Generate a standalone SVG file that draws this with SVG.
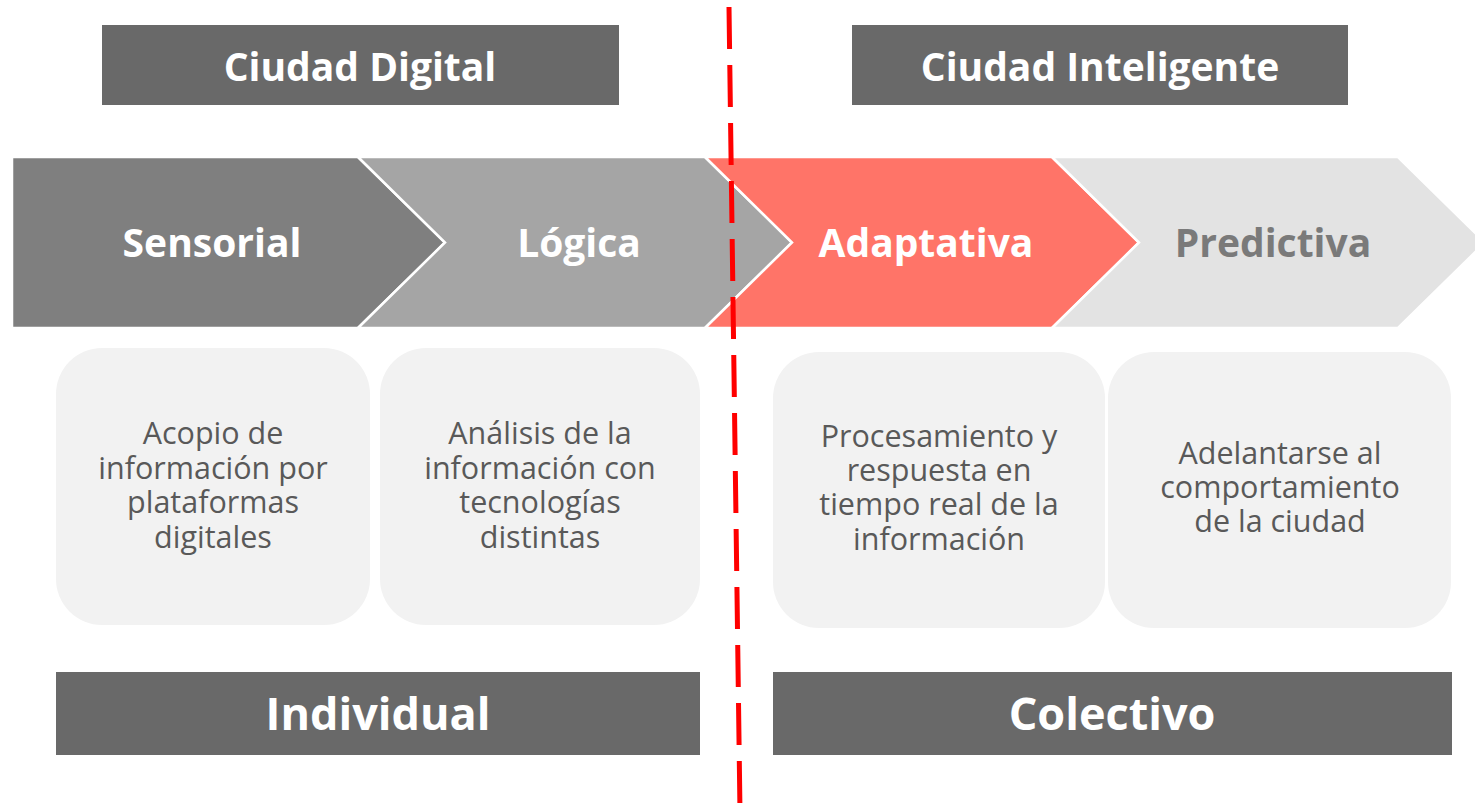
<svg xmlns="http://www.w3.org/2000/svg" width="1475" height="812" viewBox="0 0 1475 812">
<style>
.bar{fill:#696969}
.hd{font-family:"Open Sans","Liberation Sans",sans-serif;font-weight:bold;fill:#ffffff;text-anchor:middle}
.chev{stroke:#ffffff;stroke-width:2.5;stroke-linejoin:miter}
.box{fill:#f2f2f2}
.bt{font-family:"Open Sans","Liberation Sans",sans-serif;font-size:30.5px;fill:#595959;text-anchor:middle}
.lbl{font-family:"Open Sans","Liberation Sans",sans-serif;font-weight:bold;font-size:39px;text-anchor:middle}
</style>
<rect width="1475" height="812" fill="#ffffff"/>
<g id="title-digital"><rect class="bar" x="102" y="25" width="517" height="80"/><text class="hd" x="360" y="81" font-size="39">Ciudad Digital</text></g>
<g id="title-inteligente"><rect class="bar" x="852" y="25" width="496" height="80"/><text class="hd" x="1100" y="81" font-size="39">Ciudad Inteligente</text></g>
<g id="chev-sensorial"><path class="chev" fill="#7f7f7f" d="M12,157 L358,157 L445,242.5 L358,328 L12,328 Z"/><text class="lbl" x="212" y="257" fill="#ffffff">Sensorial</text></g>
<g id="chev-logica"><path class="chev" fill="#a5a5a5" d="M358,157 L705,157 L792,242.5 L705,328 L358,328 L445,242.5 Z"/><text class="lbl" x="579" y="257" fill="#ffffff">Lógica</text></g>
<g id="chev-adaptativa"><path class="chev" fill="#ff7468" d="M705,157 L1052,157 L1139,242.5 L1052,328 L705,328 L792,242.5 Z"/><text class="lbl" x="926" y="257" fill="#ffffff">Adaptativa</text></g>
<g id="chev-predictiva"><path class="chev" fill="#e3e3e3" d="M1052,157 L1398,157 L1485,242.5 L1398,328 L1052,328 L1139,242.5 Z"/><text class="lbl" x="1273" y="257" fill="#7a7a7a">Predictiva</text></g>
<g id="box-acopio"><rect class="box" x="56" y="348" width="314" height="277" rx="46"/>
<text class="bt" x="213"><tspan x="213" y="444">Acopio de</tspan><tspan x="213" y="479">información por</tspan><tspan x="213" y="513">plataformas</tspan><tspan x="213" y="548">digitales</tspan></text></g>
<g id="box-analisis"><rect class="box" x="380" y="348" width="320" height="277" rx="46"/>
<text class="bt" x="540"><tspan x="540" y="444">Análisis de la</tspan><tspan x="540" y="479">información con</tspan><tspan x="540" y="513">tecnologías</tspan><tspan x="540" y="548">distintas</tspan></text></g>
<g id="box-procesamiento"><rect class="box" x="773" y="352" width="332" height="276" rx="46"/>
<text class="bt" x="939"><tspan x="939" y="447">Procesamiento y</tspan><tspan x="939" y="481">respuesta en</tspan><tspan x="939" y="515">tiempo real de la</tspan><tspan x="939" y="550">información</tspan></text></g>
<g id="box-adelantarse"><rect class="box" x="1108" y="352" width="343" height="276" rx="46"/>
<text class="bt" x="1280"><tspan x="1280" y="464">Adelantarse al</tspan><tspan x="1280" y="498">comportamiento</tspan><tspan x="1280" y="532">de la ciudad</tspan></text></g>
<g id="bar-individual"><rect class="bar" x="56" y="672" width="644" height="83"/><text class="hd" x="378" y="730" font-size="45">Individual</text></g>
<g id="bar-colectivo"><rect class="bar" x="773" y="672" width="679" height="83"/><text class="hd" x="1112" y="730" font-size="45">Colectivo</text></g>
<g id="connectors"><line x1="729" y1="7" x2="740" y2="812" stroke="#ff0000" stroke-width="5" stroke-dasharray="42 16"/></g>
</svg>
